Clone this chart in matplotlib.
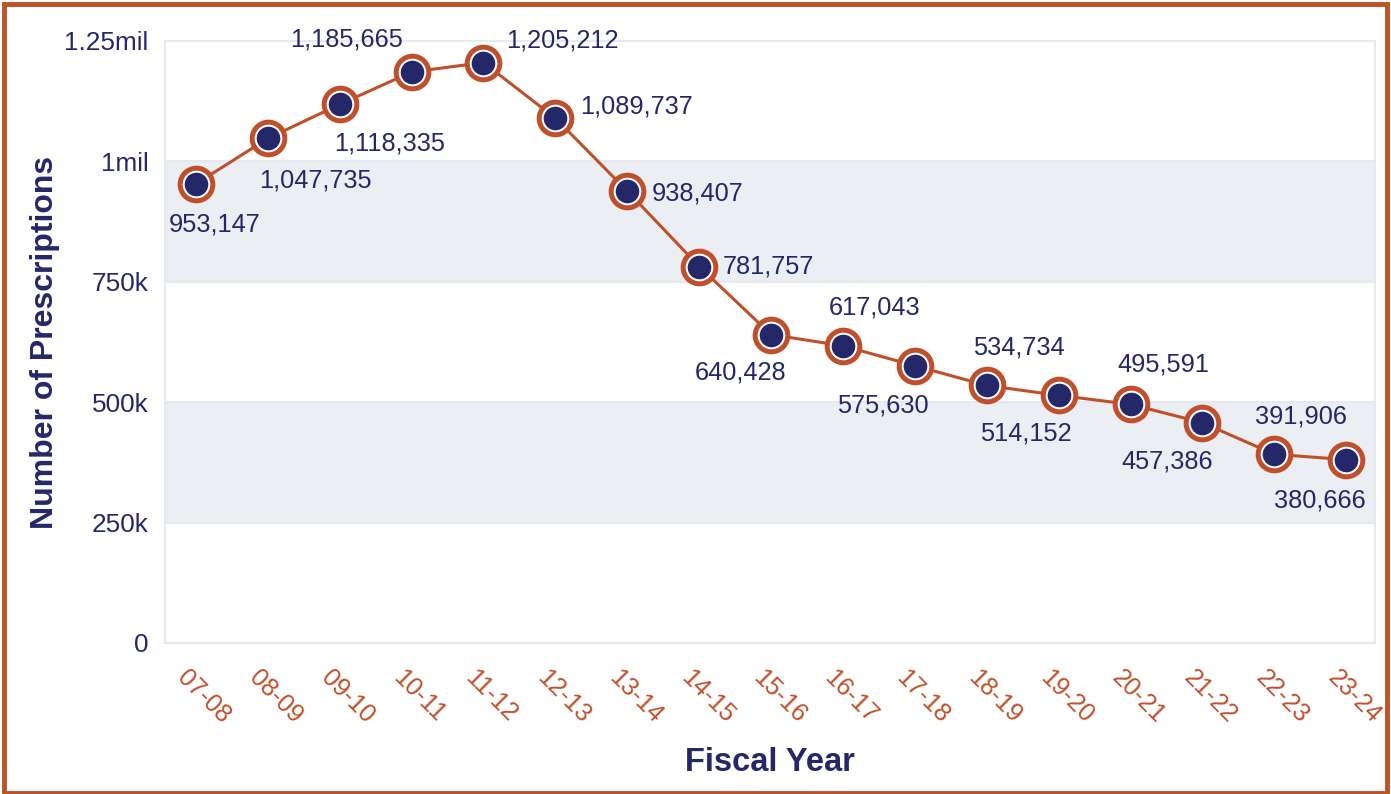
import matplotlib.pyplot as plt
from matplotlib.patches import Rectangle
from matplotlib.transforms import ScaledTranslation

# data
years = ['07-08', '08-09', '09-10', '10-11', '11-12', '12-13', '13-14', '14-15', '15-16',
         '16-17', '17-18', '18-19', '19-20', '20-21', '21-22', '22-23', '23-24']
prescriptions = [953147, 1047735, 1118335, 1185665, 1205212, 1089737, 938407, 781757, 640428,
                 617043, 575630, 534734, 514152, 495591, 457386, 391906, 380666]
# label offsets in pixels (dx, dy) from each point
label_offsets = [(19, -41), (48, -42), (50, -39), (-65, 32), (79, 22), (81, 12), (70, -2),
                 (69, 0), (-31, -38), (32, 38), (-32, -40), (32, 38), (-33, -38), (33, 40),
                 (-35, -39), (27, 38), (-26, -41)]
y_ticks = [0, 250000, 500000, 750000, 1000000, 1250000]
y_tick_labels = ['0', '250k', '500k', '750k', '1mil', '1.25mil']

navy = '#242868'
orange = '#c0502a'
band = '#ebeef3'
gridc = '#e6e9ef'

plt.rcParams['font.family'] = ['Liberation Sans', 'DejaVu Sans']

fig = plt.figure(figsize=(13.91, 7.94), dpi=100)
ax = fig.add_axes([165 / 1391, 151 / 794, 1210 / 1391, 602 / 794])

x = list(range(len(years)))

# shaded bands
ax.axhspan(250000, 500000, color=band, zorder=0, lw=0)
ax.axhspan(750000, 1000000, color=band, zorder=0, lw=0)
for t in y_ticks:
    ax.axhline(t, color=gridc, lw=1.5, zorder=0.5)

ax.plot(x, prescriptions, color=orange, lw=2.2, zorder=2)
ax.plot(x, prescriptions, 'o', ms=23.5, mfc='white', mec=orange, mew=3.6, zorder=3)
ax.plot(x, prescriptions, 'o', ms=17, mfc=navy, mec='none', zorder=4)

for xi, v, (dx, dy) in zip(x, prescriptions, label_offsets):
    ax.annotate(f'{v:,}', (xi, v), xytext=(dx * 0.72, dy * 0.72), textcoords='offset points',
                ha='center', va='center', fontsize=18.3, color=navy, zorder=5)

ax.set_xlim(-0.43, 16.4)
ax.set_ylim(0, 1250000)
ax.set_yticks(y_ticks)
ax.set_yticklabels(y_tick_labels)
ax.set_xticks(x)
ax.set_xticklabels(years, rotation=-45, ha='left', va='top', rotation_mode='anchor')
ax.tick_params(axis='y', length=0, pad=12, labelsize=18.8, labelcolor=navy)
ax.tick_params(axis='x', length=0, pad=16, labelsize=18, labelcolor=orange)
shift = ScaledTranslation(-6 / 100, 0, fig.dpi_scale_trans)
for lbl in ax.get_xticklabels():
    lbl.set_transform(lbl.get_transform() + shift)

for s in ax.spines.values():
    s.set_color(gridc)
    s.set_linewidth(1.5)

ax.set_ylabel('Number of Prescriptions', fontsize=23, fontweight='bold', color=navy, labelpad=3)
ax.set_xlabel('Fiscal Year', fontsize=23.5, fontweight='bold', color=navy, labelpad=14)

# orange frame around the figure
fig.patches.append(Rectangle((0.003, 0.001), 0.994, 0.994, transform=fig.transFigure,
                             fill=False, edgecolor=orange, lw=3.5))

fig.savefig('out.png', dpi=100)
